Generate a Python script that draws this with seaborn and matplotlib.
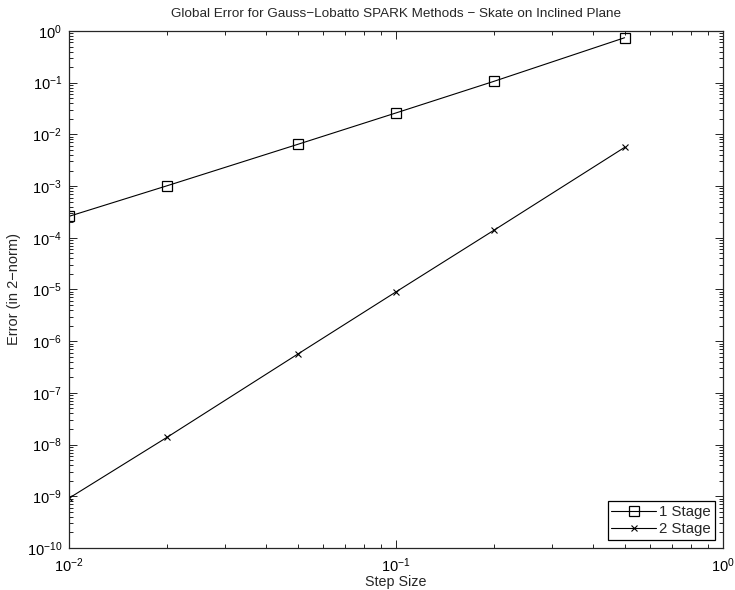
import numpy as np
import pandas as pd
import matplotlib
matplotlib.use("Agg")
import matplotlib.pyplot as plt
import seaborn as sns
from matplotlib.ticker import LogLocator, NullFormatter

step_size = [0.01, 0.02, 0.05, 0.1, 0.2, 0.5]
err_stage1 = [2.6e-4, 1.02e-3, 6.4e-3, 2.6e-2, 1.07e-1, 7.4e-1]
err_stage2 = [9.2e-10, 1.4e-8, 5.6e-7, 9.0e-6, 1.42e-4, 5.6e-3]
labels = ["1 Stage", "2 Stage"]

sns.set_style("ticks")
plt.rcParams["font.family"] = ["Liberation Sans", "DejaVu Sans"]
plt.rcParams["mathtext.fontset"] = "custom"
plt.rcParams["mathtext.rm"] = "Liberation Sans"
plt.rcParams["mathtext.it"] = "Liberation Sans:italic"
plt.rcParams["mathtext.bf"] = "Liberation Sans:bold"
plt.rcParams["xtick.direction"] = "in"
plt.rcParams["ytick.direction"] = "in"

fig = plt.figure(figsize=(7.35, 5.9), dpi=100)
ax = fig.add_axes([0.0939, 0.0712, 0.8898, 0.8763])

sns.lineplot(x=step_size, y=err_stage1, ax=ax, color="k", lw=0.8,
             marker="s", markersize=6.5, markerfacecolor="none",
             markeredgecolor="k", markeredgewidth=0.9, label=labels[0])
sns.lineplot(x=step_size, y=err_stage2, ax=ax, color="k", lw=0.8,
             marker="x", markersize=5, markeredgecolor="k",
             markeredgewidth=0.8, label=labels[1])

ax.set_xscale("log")
ax.set_yscale("log")
ax.set_xlim(1e-2, 1e0)
ax.set_ylim(1e-10, 1e0)
ax.set_xticks([10.0 ** k for k in range(-2, 1)])
ax.set_yticks([10.0 ** k for k in range(-10, 1)])
ax.yaxis.set_minor_locator(LogLocator(base=10, subs=np.arange(2, 10), numticks=20))
ax.yaxis.set_minor_formatter(NullFormatter())
ax.xaxis.set_minor_formatter(NullFormatter())
ax.set_xlim(1e-2, 1e0)
ax.set_ylim(1e-10, 1e0)

for s in ax.spines.values():
    s.set_visible(True)
    s.set_linewidth(0.9)
ax.tick_params(which="both", top=True, right=True, direction="in",
               labelsize=10.5, width=0.6, colors="k")
ax.tick_params(which="major", length=5.5)
ax.tick_params(which="minor", length=3)
ax.tick_params(axis="x", pad=6)
ax.tick_params(axis="y", pad=5)

ax.set_title("Global Error for Gauss\u2212Lobatto SPARK Methods \u2212 Skate on Inclined Plane",
             fontsize=9.7, pad=10)
ax.set_xlabel("Step Size", fontsize=10.3, labelpad=0)
ax.set_ylabel("Error (in 2\u2212norm)", fontsize=10.5, labelpad=4)

leg = ax.legend(loc="lower right", fontsize=10.8, fancybox=False, framealpha=1,
                edgecolor="k", borderaxespad=0.55, handlelength=3.0,
                handletextpad=0.2, borderpad=0.25, labelspacing=0.2)
leg.get_frame().set_linewidth(0.9)

fig.savefig("out.png", dpi=100)
